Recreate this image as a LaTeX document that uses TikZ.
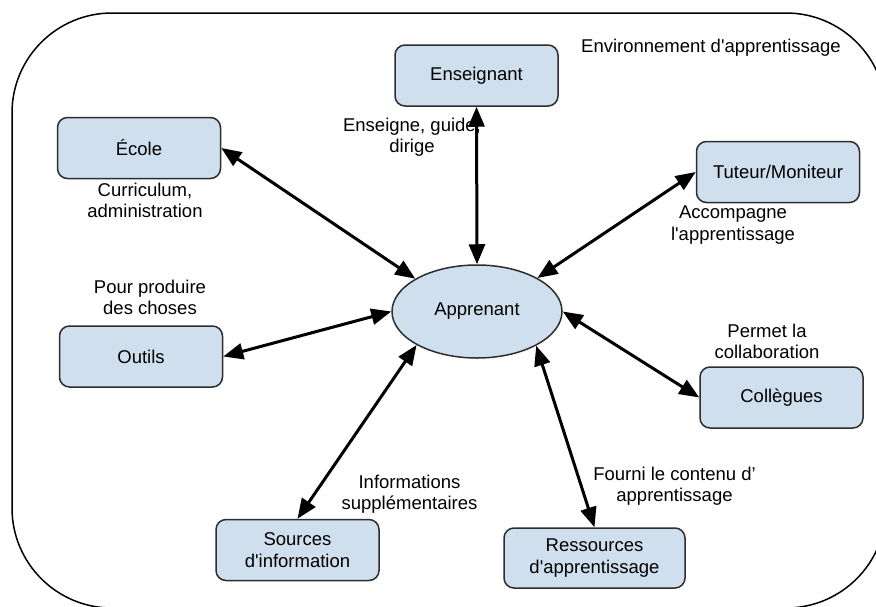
\documentclass[tikz,border=0pt]{standalone}
\usepackage{fontspec}
\setmainfont{Liberation Sans}[Ligatures=TeXOff]
\usetikzlibrary{arrows.meta,shapes.geometric}
\definecolor{boxblue}{RGB}{207,223,238}
\definecolor{boxline}{RGB}{45,45,45}
\begin{document}
\begin{tikzpicture}[x=1pt,y=-1pt,
  font=\fontsize{18.5}{21.5}\selectfont,
  actor/.style={draw=boxline, fill=boxblue, line width=1.5pt, rounded corners=10pt,
    minimum width=163pt, minimum height=61pt, align=center, inner sep=2pt},
  learner/.style={draw=boxline, fill=boxblue, line width=1.5pt, ellipse,
    minimum width=170pt, minimum height=93pt, inner sep=0pt},
  note/.style={align=center, inner sep=0pt},
  link/.style={line width=3pt, {Triangle[length=20pt,width=16pt]}-{Triangle[length=20pt,width=16pt]}}]
\useasboundingbox (0,0) rectangle (876,606);
\begin{scope}
\clip (0,0) rectangle (876,606);
\draw[line width=1.5pt, rounded corners=100pt] (12,13) rectangle (886,608);
\end{scope}

\node[note] (envlabel) at (711,48) {Environnement d'apprentissage};

\node[actor] (enseignant) at (476.5,75.5) {Enseignant};
\node[actor] (ecole) at (139,148) {École};
\node[actor] (tuteur) at (778,172) {Tuteur/Moniteur};
\node[actor] (outils) at (141,356.5) {Outils};
\node[actor] (collegues) at (781.5,397.5) {Collègues};
\node[actor] (sources) at (297.5,550) {Sources\\d'information};
\node[actor, minimum width=181pt, minimum height=60pt] (ressources) at (594.5,558) {Ressources\\d'apprentissage};
\node[learner] (apprenant) at (477,311.5) {Apprenant};

\node[note] (lblenseignant) at (412,137) {Enseigne, guide,\\dirige};
\node[note] (lblecole) at (145,200.5) {Curriculum,\\administration};
\node[note] (lbltuteur) at (733,225) {Accompagne\\l'apprentissage};
\node[note] (lbloutils) at (150,297.5) {Pour produire\\des choses};
\node[note] (lblcollegues) at (767,341.5) {Permet la\\collaboration};
\node[note] (lblressources) at (674.5,486) {Fourni le contenu d’\\apprentissage};
\node[note] (lblsources) at (409.5,494) {Informations\\supplémentaires};

\draw[link] (ecole.east) -- (apprenant.152);
\draw[link] (enseignant.south) -- (apprenant.north);
\draw[link] (tuteur.west) -- (apprenant.29);
\draw[link] (outils.east) -- (apprenant.west);
\draw[link] (sources.north) -- (apprenant.209);
\draw[link] (ressources.north) -- (apprenant.330);
\draw[link] (collegues.west) -- (apprenant.east);
\end{tikzpicture}
\end{document}
